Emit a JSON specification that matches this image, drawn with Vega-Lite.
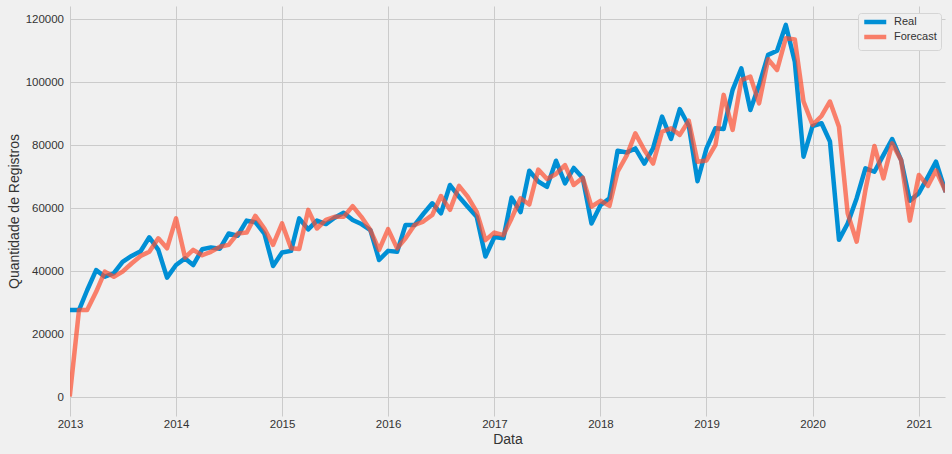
{
  "$schema": "https://vega.github.io/schema/vega-lite/v6.json",
  "width": 875,
  "height": 410,
  "autosize": {"type": "none"},
  "padding": {"left": 70, "top": 6, "right": 7, "bottom": 38},
  "background": "#f0f0f0",
  "config": {"view": {"stroke": null}, "font": "Liberation Sans"},
  "data": {"values": [
    {"d":"2013-01-01","s":"Real","v":27700},{"d":"2013-02-01","s":"Real","v":27700},{"d":"2013-03-01","s":"Real","v":34000},{"d":"2013-04-01","s":"Real","v":40400},{"d":"2013-05-01","s":"Real","v":38300},{"d":"2013-06-01","s":"Real","v":39400},{"d":"2013-07-01","s":"Real","v":43000},{"d":"2013-08-01","s":"Real","v":44900},{"d":"2013-09-01","s":"Real","v":46400},{"d":"2013-10-01","s":"Real","v":50800},{"d":"2013-11-01","s":"Real","v":46800},{"d":"2013-12-01","s":"Real","v":38000},
    {"d":"2014-01-01","s":"Real","v":42000},{"d":"2014-02-01","s":"Real","v":44100},{"d":"2014-03-01","s":"Real","v":42000},{"d":"2014-04-01","s":"Real","v":47000},{"d":"2014-05-01","s":"Real","v":47600},{"d":"2014-06-01","s":"Real","v":47200},{"d":"2014-07-01","s":"Real","v":52000},{"d":"2014-08-01","s":"Real","v":51300},{"d":"2014-09-01","s":"Real","v":56100},{"d":"2014-10-01","s":"Real","v":55600},{"d":"2014-11-01","s":"Real","v":52000},{"d":"2014-12-01","s":"Real","v":41700},
    {"d":"2015-01-01","s":"Real","v":46000},{"d":"2015-02-01","s":"Real","v":46500},{"d":"2015-03-01","s":"Real","v":56800},{"d":"2015-04-01","s":"Real","v":53300},{"d":"2015-05-01","s":"Real","v":56100},{"d":"2015-06-01","s":"Real","v":55000},{"d":"2015-07-01","s":"Real","v":57000},{"d":"2015-08-01","s":"Real","v":58600},{"d":"2015-09-01","s":"Real","v":56300},{"d":"2015-10-01","s":"Real","v":55000},{"d":"2015-11-01","s":"Real","v":53100},{"d":"2015-12-01","s":"Real","v":43600},
    {"d":"2016-01-01","s":"Real","v":46500},{"d":"2016-02-01","s":"Real","v":46200},{"d":"2016-03-01","s":"Real","v":54700},{"d":"2016-04-01","s":"Real","v":54700},{"d":"2016-05-01","s":"Real","v":58200},{"d":"2016-06-01","s":"Real","v":61600},{"d":"2016-07-01","s":"Real","v":58400},{"d":"2016-08-01","s":"Real","v":67400},{"d":"2016-09-01","s":"Real","v":63700},{"d":"2016-10-01","s":"Real","v":60500},{"d":"2016-11-01","s":"Real","v":57300},{"d":"2016-12-01","s":"Real","v":44700},
    {"d":"2017-01-01","s":"Real","v":50900},{"d":"2017-02-01","s":"Real","v":50500},{"d":"2017-03-01","s":"Real","v":63400},{"d":"2017-04-01","s":"Real","v":58800},{"d":"2017-05-01","s":"Real","v":71900},{"d":"2017-06-01","s":"Real","v":68500},{"d":"2017-07-01","s":"Real","v":66800},{"d":"2017-08-01","s":"Real","v":75100},{"d":"2017-09-01","s":"Real","v":67900},{"d":"2017-10-01","s":"Real","v":72800},{"d":"2017-11-01","s":"Real","v":69600},{"d":"2017-12-01","s":"Real","v":55200},
    {"d":"2018-01-01","s":"Real","v":61000},{"d":"2018-02-01","s":"Real","v":63200},{"d":"2018-03-01","s":"Real","v":78300},{"d":"2018-04-01","s":"Real","v":77700},{"d":"2018-05-01","s":"Real","v":79000},{"d":"2018-06-01","s":"Real","v":74200},{"d":"2018-07-01","s":"Real","v":79000},{"d":"2018-08-01","s":"Real","v":89100},{"d":"2018-09-01","s":"Real","v":82000},{"d":"2018-10-01","s":"Real","v":91500},{"d":"2018-11-01","s":"Real","v":86200},{"d":"2018-12-01","s":"Real","v":68600},
    {"d":"2019-01-01","s":"Real","v":79000},{"d":"2019-02-01","s":"Real","v":85400},{"d":"2019-03-01","s":"Real","v":85200},{"d":"2019-04-01","s":"Real","v":97600},{"d":"2019-05-01","s":"Real","v":104400},{"d":"2019-06-01","s":"Real","v":91200},{"d":"2019-07-01","s":"Real","v":99100},{"d":"2019-08-01","s":"Real","v":108700},{"d":"2019-09-01","s":"Real","v":110000},{"d":"2019-10-01","s":"Real","v":118200},{"d":"2019-11-01","s":"Real","v":106500},{"d":"2019-12-01","s":"Real","v":76400},
    {"d":"2020-01-01","s":"Real","v":86100},{"d":"2020-02-01","s":"Real","v":87000},{"d":"2020-03-01","s":"Real","v":81200},{"d":"2020-04-01","s":"Real","v":50000},{"d":"2020-05-01","s":"Real","v":55200},{"d":"2020-06-01","s":"Real","v":63200},{"d":"2020-07-01","s":"Real","v":72700},{"d":"2020-08-01","s":"Real","v":71600},{"d":"2020-09-01","s":"Real","v":76900},{"d":"2020-10-01","s":"Real","v":82000},{"d":"2020-11-01","s":"Real","v":75300},{"d":"2020-12-01","s":"Real","v":62400},
    {"d":"2021-01-01","s":"Real","v":64800},{"d":"2021-02-01","s":"Real","v":70000},{"d":"2021-03-01","s":"Real","v":74800},{"d":"2021-04-01","s":"Real","v":65800},
    {"d":"2013-01-01","s":"Forecast","v":1000},{"d":"2013-02-01","s":"Forecast","v":27700},{"d":"2013-03-01","s":"Forecast","v":27700},{"d":"2013-04-01","s":"Forecast","v":33500},{"d":"2013-05-01","s":"Forecast","v":39900},{"d":"2013-06-01","s":"Forecast","v":38300},{"d":"2013-07-01","s":"Forecast","v":39900},{"d":"2013-08-01","s":"Forecast","v":42500},{"d":"2013-09-01","s":"Forecast","v":44900},{"d":"2013-10-01","s":"Forecast","v":46200},{"d":"2013-11-01","s":"Forecast","v":50500},{"d":"2013-12-01","s":"Forecast","v":47300},
    {"d":"2014-01-01","s":"Forecast","v":56800},{"d":"2014-02-01","s":"Forecast","v":44400},{"d":"2014-03-01","s":"Forecast","v":46800},{"d":"2014-04-01","s":"Forecast","v":45100},{"d":"2014-05-01","s":"Forecast","v":46200},{"d":"2014-06-01","s":"Forecast","v":47800},{"d":"2014-07-01","s":"Forecast","v":48400},{"d":"2014-08-01","s":"Forecast","v":52000},{"d":"2014-09-01","s":"Forecast","v":52300},{"d":"2014-10-01","s":"Forecast","v":57600},{"d":"2014-11-01","s":"Forecast","v":53600},{"d":"2014-12-01","s":"Forecast","v":48400},
    {"d":"2015-01-01","s":"Forecast","v":55200},{"d":"2015-02-01","s":"Forecast","v":47300},{"d":"2015-03-01","s":"Forecast","v":47100},{"d":"2015-04-01","s":"Forecast","v":59500},{"d":"2015-05-01","s":"Forecast","v":53600},{"d":"2015-06-01","s":"Forecast","v":56300},{"d":"2015-07-01","s":"Forecast","v":57300},{"d":"2015-08-01","s":"Forecast","v":57300},{"d":"2015-09-01","s":"Forecast","v":60700},{"d":"2015-10-01","s":"Forecast","v":57300},{"d":"2015-11-01","s":"Forecast","v":53100},{"d":"2015-12-01","s":"Forecast","v":46800},
    {"d":"2016-01-01","s":"Forecast","v":53400},{"d":"2016-02-01","s":"Forecast","v":47300},{"d":"2016-03-01","s":"Forecast","v":50500},{"d":"2016-04-01","s":"Forecast","v":54700},{"d":"2016-05-01","s":"Forecast","v":55800},{"d":"2016-06-01","s":"Forecast","v":57900},{"d":"2016-07-01","s":"Forecast","v":63900},{"d":"2016-08-01","s":"Forecast","v":59500},{"d":"2016-09-01","s":"Forecast","v":67100},{"d":"2016-10-01","s":"Forecast","v":63700},{"d":"2016-11-01","s":"Forecast","v":58900},{"d":"2016-12-01","s":"Forecast","v":49900},
    {"d":"2017-01-01","s":"Forecast","v":52300},{"d":"2017-02-01","s":"Forecast","v":51500},{"d":"2017-03-01","s":"Forecast","v":56800},{"d":"2017-04-01","s":"Forecast","v":63200},{"d":"2017-05-01","s":"Forecast","v":61200},{"d":"2017-06-01","s":"Forecast","v":72300},{"d":"2017-07-01","s":"Forecast","v":69300},{"d":"2017-08-01","s":"Forecast","v":70900},{"d":"2017-09-01","s":"Forecast","v":73700},{"d":"2017-10-01","s":"Forecast","v":67400},{"d":"2017-11-01","s":"Forecast","v":69700},{"d":"2017-12-01","s":"Forecast","v":60500},
    {"d":"2018-01-01","s":"Forecast","v":62400},{"d":"2018-02-01","s":"Forecast","v":60800},{"d":"2018-03-01","s":"Forecast","v":71600},{"d":"2018-04-01","s":"Forecast","v":76700},{"d":"2018-05-01","s":"Forecast","v":83800},{"d":"2018-06-01","s":"Forecast","v":78500},{"d":"2018-07-01","s":"Forecast","v":74200},{"d":"2018-08-01","s":"Forecast","v":84300},{"d":"2018-09-01","s":"Forecast","v":85400},{"d":"2018-10-01","s":"Forecast","v":83300},{"d":"2018-11-01","s":"Forecast","v":87800},{"d":"2018-12-01","s":"Forecast","v":74800},
    {"d":"2019-01-01","s":"Forecast","v":75200},{"d":"2019-02-01","s":"Forecast","v":80100},{"d":"2019-03-01","s":"Forecast","v":96000},{"d":"2019-04-01","s":"Forecast","v":84900},{"d":"2019-05-01","s":"Forecast","v":100700},{"d":"2019-06-01","s":"Forecast","v":101800},{"d":"2019-07-01","s":"Forecast","v":93300},{"d":"2019-08-01","s":"Forecast","v":107300},{"d":"2019-09-01","s":"Forecast","v":103900},{"d":"2019-10-01","s":"Forecast","v":114000},{"d":"2019-11-01","s":"Forecast","v":113600},{"d":"2019-12-01","s":"Forecast","v":93900},
    {"d":"2020-01-01","s":"Forecast","v":86500},{"d":"2020-02-01","s":"Forecast","v":89300},{"d":"2020-03-01","s":"Forecast","v":93900},{"d":"2020-04-01","s":"Forecast","v":85900},{"d":"2020-05-01","s":"Forecast","v":58400},{"d":"2020-06-01","s":"Forecast","v":49400},{"d":"2020-07-01","s":"Forecast","v":65800},{"d":"2020-08-01","s":"Forecast","v":79800},{"d":"2020-09-01","s":"Forecast","v":69500},{"d":"2020-10-01","s":"Forecast","v":80600},{"d":"2020-11-01","s":"Forecast","v":75300},{"d":"2020-12-01","s":"Forecast","v":56100},
    {"d":"2021-01-01","s":"Forecast","v":70600},{"d":"2021-02-01","s":"Forecast","v":67100},{"d":"2021-03-01","s":"Forecast","v":72000},{"d":"2021-04-01","s":"Forecast","v":65800}
  ]},
  "encoding": {
    "x": {
      "field": "d", "type": "temporal", "title": "Data",
      "scale": {"type": "utc", "domain": [{"year": 2013, "month": 1, "date": 1, "utc": true}, {"year": 2021, "month": 4, "date": 1, "utc": true}]},
      "axis": {
        "values": [
          {"year": 2013, "month": 1, "date": 1, "utc": true},{"year": 2014, "month": 1, "date": 1, "utc": true},{"year": 2015, "month": 1, "date": 1, "utc": true},
          {"year": 2016, "month": 1, "date": 1, "utc": true},{"year": 2017, "month": 1, "date": 1, "utc": true},{"year": 2018, "month": 1, "date": 1, "utc": true},
          {"year": 2019, "month": 1, "date": 1, "utc": true},{"year": 2020, "month": 1, "date": 1, "utc": true},{"year": 2021, "month": 1, "date": 1, "utc": true}
        ],
        "labelExpr": "utcFormat(datum.value, '%Y')",
        "labelFlush": false, "labelOverlap": false,
        "grid": true, "gridColor": "#cbcbcb", "gridWidth": 1,
        "domain": false, "ticks": false,
        "labelFontSize": 11.5, "labelColor": "#333333", "labelPadding": 2,
        "titleFontSize": 14, "titleFontWeight": "normal", "titleColor": "#333333", "titlePadding": 3
      }
    },
    "y": {
      "field": "v", "type": "quantitative", "title": "Quantidade de Registros",
      "scale": {"domain": [-5900, 124200], "nice": false, "zero": false},
      "axis": {
        "values": [0, 20000, 40000, 60000, 80000, 100000, 120000],
        "format": "d",
        "grid": true, "gridColor": "#cbcbcb", "gridWidth": 1,
        "domain": false, "ticks": false,
        "labelFontSize": 11.5, "labelColor": "#333333", "labelPadding": 6.5,
        "titleFontSize": 14, "titleFontWeight": "normal", "titleColor": "#333333",
        "titleX": -52, "titleY": 205, "titleAngle": 270, "titleAlign": "center", "titleBaseline": "alphabetic"
      }
    },
    "color": {
      "field": "s", "type": "nominal",
      "scale": {"domain": ["Real", "Forecast"], "range": ["#008fd5", "#fc4f30"]},
      "legend": {
        "title": null, "orient": "none", "legendX": 788, "legendY": 7,
        "symbolType": "M-1,0L7,0", "symbolSize": 30.25, "symbolStrokeWidth": 4.5,
        "labelFontSize": 11, "labelColor": "#333333", "labelOffset": 21.5,
        "padding": 3.5, "rowPadding": -5, "fillColor": "#f0f0f0", "strokeColor": "#d5d5d5", "cornerRadius": 3,
        "encode": {"symbols": {"update": {"opacity": {"signal": "datum.value === 'Forecast' ? 0.7 : 1"}}}}
      }
    }
  },
  "layer": [
    {"transform": [{"filter": "datum.s === 'Real'"}], "mark": {"type": "line", "strokeWidth": 4.5, "strokeJoin": "round", "strokeCap": "square", "clip": true}},
    {"transform": [{"filter": "datum.s === 'Forecast'"}], "mark": {"type": "line", "strokeWidth": 4.5, "strokeJoin": "round", "strokeCap": "square", "opacity": 0.7, "clip": true}}
  ]
}
